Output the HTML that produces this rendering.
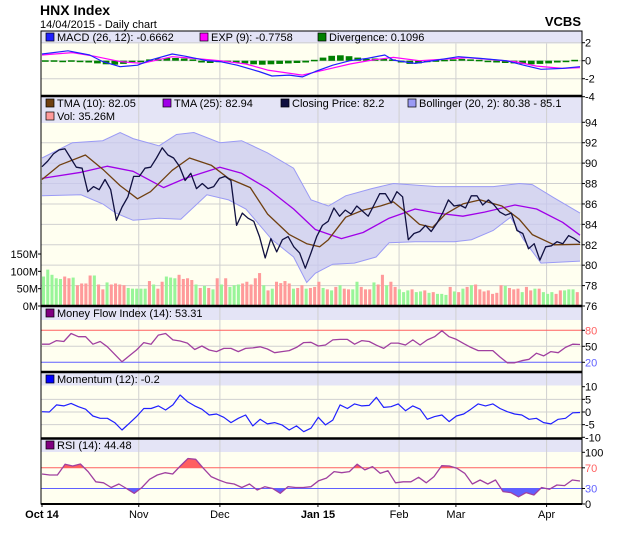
<!DOCTYPE html>
<html><head><meta charset="utf-8"><style>
body{margin:0;background:#fff;font-family:"Liberation Sans",sans-serif}
svg text{font-family:"Liberation Sans",sans-serif}
</style></head><body>
<svg id="c" width="620" height="535" xmlns="http://www.w3.org/2000/svg">
<text x="40" y="15" font-size="14" font-weight="bold">HNX Index</text>
<text x="40" y="28" font-size="11">14/04/2015 - Daily chart</text>
<text x="581" y="26" font-size="13" font-weight="bold" text-anchor="end">VCBS</text>
</svg>
<script>
const closeVals=[89.65,90.2,90.9,91.3,91.4,90.5,89.6,89.5,87.2,87.7,87.4,88.4,87.4,84.4,85.7,86.7,88.7,88.7,89.5,89.6,90.5,91.5,90.8,90.5,89.7,88.3,89.0,87.5,88.0,87.5,87.7,88.5,88.7,88.3,83.9,85.1,84.6,84.3,82.8,80.7,82.6,81.3,82.5,82.8,81.8,81.2,79.7,81.2,82.8,83.9,84.3,85.6,84.8,85.4,85.0,85.8,85.3,84.8,85.9,87.0,87.0,86.1,87.2,86.7,82.5,83.1,83.3,83.9,83.3,84.1,85.1,86.4,85.8,85.9,85.6,86.8,86.8,85.9,86.4,85.9,85.2,84.9,85.1,83.4,83.1,81.6,82.1,80.5,81.8,81.9,82.3,82.1,82.9,82.6,82.2];
const tma10Days=[0,4,10,14,18,22,25,30,34,39,43,48,52,57,61,64,66,70,74,78,81,83,87,90,93,97,101,106,110,113,118,124];
const tma10Vals=[88.4,89.8,90.8,89.4,87.8,86.5,87.2,89.3,90.5,89.8,88.5,87.6,85.0,83.0,82.1,81.8,82.5,84.7,85.4,85.8,86.2,85.5,84.0,83.7,85.0,86.0,86.4,85.8,84.5,83.0,82.0,82.05];
const tma25Days=[0,9,15,21,28,33,41,46,52,58,63,69,74,80,86,91,97,102,109,114,120,124];
const tma25Vals=[88.5,89.1,89.7,89.2,87.6,88.5,89.6,89.0,87.5,85.5,83.5,82.6,83.2,84.6,85.5,85.1,84.8,85.2,85.9,85.5,84.2,82.94];
const bollUDays=[0,7,14,18,21,27,31,35,41,46,52,58,62,66,70,76,81,91,100,104,110,113,118,124];
const bollUVals=[90.5,92.0,92.2,93.0,92.4,91.7,92.8,93.0,92.0,92.2,91.0,89.5,86.4,85.8,86.8,87.5,88.0,87.7,87.7,87.7,88.0,87.9,86.6,85.1];
const bollLDays=[0,9,14,17,21,27,32,38,43,47,53,58,61,63,67,72,77,80,86,95,99,104,108,111,115,124];
const bollLVals=[86.8,86.9,86.0,85.1,84.4,84.6,84.5,86.9,86.4,85.5,82.5,80.8,78.3,79.2,80.1,80.2,80.8,82.2,82.3,82.3,82.5,83.4,84.7,82.5,80.2,80.4];
const volVals=[85,105,90,80,78,85,80,82,60,65,65,88,88,62,48,68,62,65,62,60,52,50,50,50,50,72,62,50,70,85,82,80,90,78,80,75,62,52,58,52,48,80,62,80,55,60,62,65,70,62,80,95,60,45,50,70,66,72,65,50,52,60,50,52,55,70,52,48,45,55,60,50,48,48,70,55,48,48,68,62,90,60,70,55,48,40,45,48,40,42,45,38,40,35,35,32,55,42,40,50,55,60,62,48,42,45,35,38,60,58,52,48,50,40,55,45,50,50,40,35,40,35,45,45,48,48,40];
const volUp=[1,1,1,1,1,0,0,1,0,0,0,0,1,0,0,1,0,0,0,0,1,1,1,1,1,0,1,0,0,1,1,1,0,0,0,0,1,0,1,0,1,0,1,0,1,1,1,0,0,0,0,0,1,0,1,0,0,0,0,1,0,0,1,0,0,0,1,0,1,0,1,0,0,1,1,0,0,0,1,0,0,1,0,0,1,1,1,0,1,1,0,1,0,1,1,1,0,1,0,1,0,1,0,0,0,0,0,0,0,1,0,0,0,1,0,0,1,0,1,1,1,0,0,1,1,1,0];
const macdDays=[0,6,11,14,18,22,25,30,33,38,41,45,50,53,57,60,63,67,71,75,79,81,86,91,96,101,107,111,115,120,124];
const macdVals=[0.74,1.1,0.63,-0.1,-0.67,-0.5,0.07,0.74,0.5,0,-0.1,-0.5,-1.2,-1.7,-1.6,-1.8,-1.2,-0.5,0,0.26,0.63,0.07,-0.3,0.07,0.44,0.26,0,-0.5,-0.96,-0.85,-0.67];
const sigDays=[0,7,12,18,23,30,35,41,47,52,60,65,71,76,81,87,92,98,103,109,114,120,124];
const sigVals=[0.63,0.9,0.5,-0.1,-0.3,0.44,0.26,0,-0.37,-1.04,-1.6,-1.04,-0.37,0.07,0.37,0,0.15,0.33,0.15,-0.1,-0.6,-0.85,-0.78];
const divVals=[0.05,0.05,0,0.05,0,-0.2,-0.3,-0.4,-0.45,-0.35,-0.15,-0.05,0.15,0.25,0.3,0.3,0.25,0.15,-0.2,-0.25,-0.15,-0.05,-0.2,-0.3,-0.4,-0.45,-0.4,-0.35,-0.3,-0.25,-0.2,0.1,0.35,0.55,0.6,0.5,0.35,0.2,0.25,0.2,0.15,-0.2,-0.35,-0.3,-0.15,0.05,0.1,0.15,0.2,0.15,0.1,-0.1,-0.2,-0.25,-0.3,-0.35,-0.4,-0.35,-0.3,-0.2,-0.1,0.1];
const mfiVals=[54,54,60.6,59,74,68,68,54,59,49,35,21,32,43,57,54,71,74,62,60,56,44,50.6,43,40,46,46,40,46,47,49,45,38,40,42,48,57,57.5,50.6,52.5,62,63,63,54,60.6,59,52,46,56,56,52.5,62,52.5,62,68,79,68,63,55,48,42,42,42,30,19,19,23,25.6,37,32,40,38,48,54,53.31];
const momVals=[0.1,0,2.8,2.4,3.4,2.1,1.1,-1.6,-2.5,-2.5,-4.2,-7.1,-4.5,-1.8,1.4,1.4,2.4,0.8,2.8,6.7,4.1,2.4,1.1,-1.2,-0.8,-2.1,-4.2,-2.5,-1.2,-5.5,-2.9,-4.7,-4.2,-5.1,-7.1,-5.5,-7.8,-6.4,-2.1,-5.1,-3.2,2.8,1.4,3.2,2.4,2.6,5.8,1.8,2.1,3.2,0.5,2.4,1.1,-2.9,-1.8,-1.2,-3.8,-1.6,-0.8,1.1,3.2,2.4,3.2,1.4,0.1,-0.8,-1.2,-2.9,-2.5,-4.2,-4.7,-2.9,-2.5,-0.3,-0.2];
const rsiVals=[58,56,56,77,73.5,77.4,62.6,43,41,32,38.7,30,20.6,32,47.7,56,60.6,58,73.5,88,86.5,69,53,46.5,41,38.7,32,38.7,27,33.5,30,20.6,33.5,32,32,33.5,45,50,62.6,60.6,62.6,77,66,72.3,59.4,64.5,41,43,43,51.6,41,53,74,73.5,69,59.4,38.7,46.5,38.7,46.5,24,22,14,22,17.4,32,28.4,36.8,35.5,46.5,44.48];
const monthLabels=["Oct 14","Nov","Dec","Jan 15","Feb","Mar","Apr"];
const monthDays=[0,22.3,41,63.6,82.3,95.4,116.3];
const mainTicks=[94,92,90,88,86,84,82,80,78,76];
const volTicks=[150,100,50,0];
const macdTicks=[2,0,-2,-4];
const mfiTicks=[80,50,20];
const momTicks=[10,5,0,-5,-10];
const rsiTicks=[100,70,30,0];

const svg=document.getElementById('c');
const NS='http://www.w3.org/2000/svg';
const X0=41,X1=582,PX0=42,PX1=580,DAYS=124;
function xd(d){return PX0+d*(PX1-PX0)/DAYS;}
function xi(i,n){return xd(i*DAYS/(n-1));}
function mk(tag,a,parent){const e=document.createElementNS(NS,tag);for(const k in a)e.setAttribute(k,a[k]);(parent||svg).appendChild(e);return e;}
function lin(v0,y0,v1,y1){return v=>y0+(v-v0)*(y1-y0)/(v1-v0);}
const yMain=lin(94,122.3,76,306), yVol=lin(0,306,150,254), yMacd=lin(2,42.7,0,60.7), yMfi=lin(80,330.3,20,362.3), yMom=lin(10,386.7,-10,437.3), yRsi=lin(100,452.3,0,504);
function panel(name,top,legTop,legBot,bot){
 let r=mk('rect',{x:X0,y:legBot,width:X1-X0,height:bot-legBot,fill:'#fffff0'});
 
 let l=mk('rect',{x:X0,y:legTop,width:X1-X0,height:legBot-legTop,fill:'#e4e4f6'});
 
}
panel('macd',31,31,43.5,96);panel('main',96,96,123,306);panel('mfi',306,306,320,372);panel('momentum',372,372,385.5,438.5);panel('rsi',438.5,438.5,452,504);
function vgrid(y0,y1){monthDays.forEach((d,i)=>{if(i>0){let g=mk('line',{x1:xd(d),x2:xd(d),y1:y0,y2:y1,stroke:'#d0d0d0','stroke-width':1});}});}
function hgrid(vals,sc,x0,col){vals.forEach(v=>{let g=mk('line',{x1:X0,x2:X1,y1:sc(v),y2:sc(v),stroke:col||'#d0d0d0','stroke-width':1});});}
vgrid(43.5,96);vgrid(96,306);vgrid(306,372);vgrid(372,438.5);vgrid(438.5,504);
hgrid([2,0,-2],yMacd);hgrid(mainTicks.filter(v=>v<94&&v>76),yMain);hgrid([50],yMfi);hgrid([5,0,-5],yMom);
function axisLabels(vals,sc,name,colors){vals.forEach((v,i)=>{let t=mk('text',{x:585,y:sc(v)+4,'font-size':11,fill:(colors&&colors[i])||'#000'});t.textContent=String(v);mk('line',{x1:X1,x2:X1+3,y1:sc(v),y2:sc(v),stroke:'#000'});});}
axisLabels(macdTicks,yMacd,'macd');axisLabels(mainTicks,yMain,'price');
axisLabels(mfiTicks,yMfi,'mfi',['#ff6060','#000','#6060ff']);axisLabels(momTicks,yMom,'momentum');axisLabels(rsiTicks,yRsi,'rsi',['#000','#ff6060','#6060ff','#000']);
volTicks.forEach(v=>{let t=mk('text',{x:38,y:yVol(v)+4,'font-size':11,'text-anchor':'end'});t.textContent=v+'M';mk('line',{x1:X0-3,x2:X0,y1:yVol(v),y2:yVol(v),stroke:'#000'});});
function pts(days,vals,sc){return vals.map((v,i)=>(days?xd(days[i]):xi(i,vals.length)).toFixed(1)+','+sc(v).toFixed(1));}
// Bollinger
let band=mk('polygon',{points:pts(bollUDays,bollUVals,yMain).concat(pts(bollLDays,bollLVals,yMain).reverse()).join(' '),fill:'#c8c8f0','fill-opacity':0.75,stroke:'none'});

let bu=mk('polyline',{points:pts(bollUDays,bollUVals,yMain).join(' '),fill:'none',stroke:'#9a9af5','stroke-width':1});

let bl=mk('polyline',{points:pts(bollLDays,bollLVals,yMain).join(' '),fill:'none',stroke:'#9a9af5','stroke-width':1});

// volume
const bw=(PX1-PX0)/volVals.length;
volVals.forEach((v,i)=>{let b=mk('rect',{x:(PX0+i*bw).toFixed(2),y:yVol(v),width:Math.max(bw-1.2,1.5).toFixed(2),height:306-yVol(v),fill:volUp[i]?'#99f599':'#ff9a9a'});});
function line(name,days,vals,sc,col,w){let p=mk('polyline',{points:pts(days,vals,sc).join(' '),fill:'none',stroke:col,'stroke-width':w||1.2,'stroke-linejoin':'round'});return p;}
line('tma25-line',tma25Days,tma25Vals,yMain,'#a000e8',1.3);
line('tma10-line',tma10Days,tma10Vals,yMain,'#704010',1.3);
line('close-line',null,closeVals,yMain,'#101040',1.3);
// MACD
const dw=(PX1-PX0)/divVals.length;
divVals.forEach((v,i)=>{let y=yMacd(Math.max(v,0)),h=Math.max(Math.abs(yMacd(v)-yMacd(0)),1.5);let b=mk('rect',{x:(PX0+i*dw).toFixed(2),y:v>=0?yMacd(v).toFixed(1):yMacd(0),width:(dw-2).toFixed(2),height:h.toFixed(1),fill:'#008000'});});
line('macd-signal-line',sigDays,sigVals,yMacd,'#ff00ff',1.2);
line('macd-line',macdDays,macdVals,yMacd,'#2020ff',1.2);
// MFI
[[80,'#ff6060'],[20,'#6060ff']].forEach(([v,c])=>{let l=mk('line',{x1:X0,x2:X1,y1:yMfi(v),y2:yMfi(v),stroke:c});});
line('mfi-line',null,mfiVals,yMfi,'#a040a0',1.3);
line('momentum-line',null,momVals,yMom,'#2020ff',1.2);
// RSI fills
let defs=mk('defs',{});
let c1=mk('clipPath',{id:'above70'},defs);mk('rect',{x:X0,y:452,width:X1-X0,height:yRsi(70)-452},c1);
let c2=mk('clipPath',{id:'below30'},defs);mk('rect',{x:X0,y:yRsi(30),width:X1-X0,height:504-yRsi(30)},c2);
const rp=pts(null,rsiVals,yRsi);
let f1=mk('polygon',{points:[xi(0,rsiVals.length)+','+yRsi(70)].concat(rp,[xi(rsiVals.length-1,rsiVals.length)+','+yRsi(70)]).join(' '),fill:'#ff6060','clip-path':'url(#above70)'});

let f2=mk('polygon',{points:[xi(0,rsiVals.length)+','+yRsi(30)].concat(rp,[xi(rsiVals.length-1,rsiVals.length)+','+yRsi(30)]).join(' '),fill:'#6060ff','clip-path':'url(#below30)'});

[[70,'#ff6060'],[30,'#6060ff']].forEach(([v,c])=>{let l=mk('line',{x1:X0,x2:X1,y1:yRsi(v),y2:yRsi(v),stroke:c});});
line('rsi-line',null,rsiVals,yRsi,'#a040a0',1.3);
// borders
let fr=mk('rect',{x:X0,y:31,width:X1-X0,height:473,fill:'none',stroke:'#000','stroke-width':1});
[96,306,372,438.5].forEach(y=>{let l=mk('line',{x1:X0,x2:X1,y1:y,y2:y,stroke:'#000','stroke-width':2.5});});
mk('line',{x1:X0,x2:X1,y1:504,y2:504,stroke:'#000','stroke-width':2});
// x labels
monthLabels.forEach((m,i)=>{let t=mk('text',{x:xd(monthDays[i]),y:518,'font-size':11,'text-anchor':'middle','font-weight':(m.length>3?'bold':'normal')});t.textContent=m;mk('line',{x1:xd(monthDays[i]),x2:xd(monthDays[i]),y1:504,y2:507,stroke:'#000'});});
// legends
function legend(items,y){items.forEach(([x,col,txt])=>{let g=mk('g',{});mk('rect',{x:x,y:y-8,width:8,height:8,fill:col,stroke:'#000','stroke-width':0.7},g);let t=mk('text',{x:x+11,y:y,'font-size':11},g);t.textContent=txt;});}
legend([[46,'#2020ff','MACD (26, 12): -0.6662'],[200,'#ff00ff','EXP (9): -0.7758'],[318,'#008000','Divergence: 0.1096']],41);
legend([[46,'#704010','TMA (10): 82.05'],[163,'#a000e8','TMA (25): 82.94'],[281,'#101040','Closing Price: 82.2'],[408,'#9a9af5','Bollinger (20, 2): 80.38 - 85.1']],107);
legend([[46,'#ff9a9a','Vol: 35.26M']],120);
legend([[46,'#800080','Money Flow Index (14): 53.31']],317);
legend([[46,'#0000ff','Momentum (12): -0.2']],383);
legend([[46,'#800080','RSI (14): 44.48']],449);
</script>
</body></html>
